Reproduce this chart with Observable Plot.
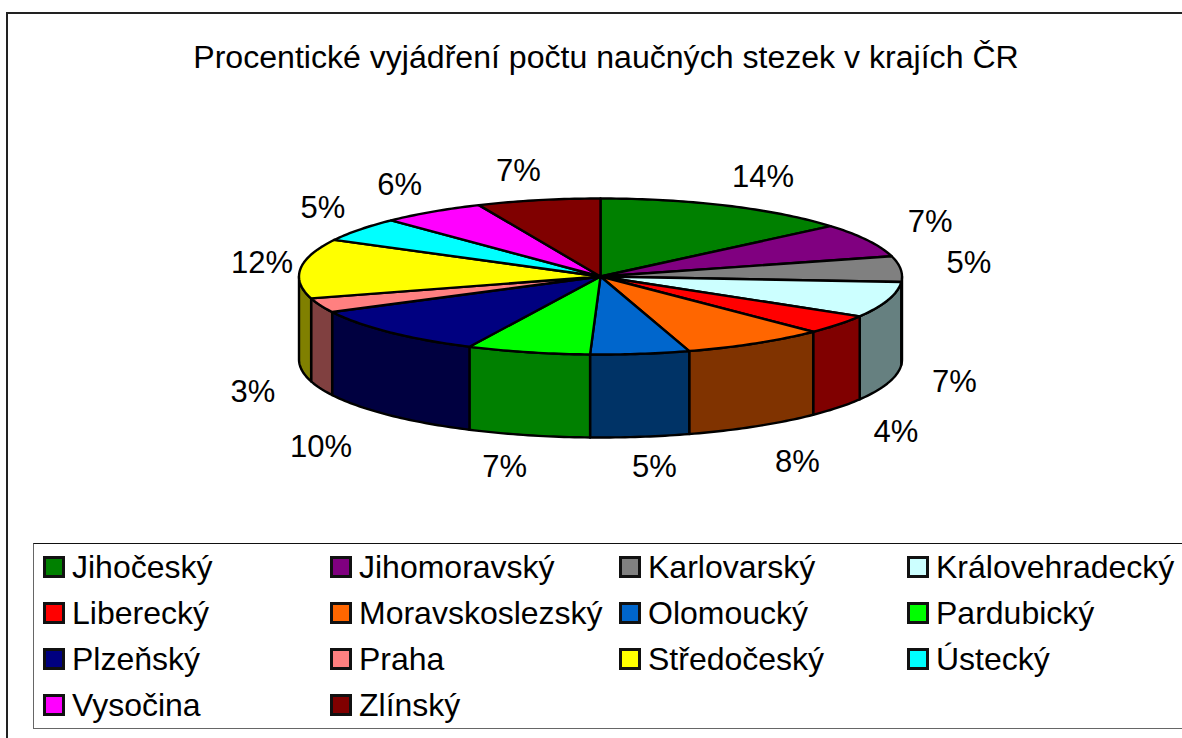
<!DOCTYPE html>
<html lang="cs">
<head>
<meta charset="utf-8">
<script src="https://cdn.jsdelivr.net/npm/d3@7"></script>
<script src="https://cdn.jsdelivr.net/npm/@observablehq/plot@0.6"></script>
<style>
  html, body { margin: 0; padding: 0; background: #fff; overflow: hidden; }
  #page { position: relative; width: 1182px; height: 738px; overflow: hidden;
          font-family: "Liberation Sans", Arial, sans-serif; color: #000; }
  #frame { position: absolute; left: 6px; top: 12px; width: 1300px; height: 800px;
           border-left: 2px solid #222; border-top: 2px solid #222; }
  #title { position: absolute; left: 6px; width: 1200px; top: 39px; text-align: center;
           font-size: 32.1px; line-height: 36px; white-space: nowrap; }
  #chart { position: absolute; left: 0; top: 0; }
  #chart svg { display: block; background: transparent; }
  #legend { position: absolute; left: 33px; top: 543px; width: 1300px; height: 183.5px;
            border-left: 1.5px solid #666; border-top: 1.5px solid #111; border-bottom: 1.5px solid #666;
            display: grid; grid-template-columns: 287px 289px 288px 300px; grid-auto-rows: 46.1px;
            font-size: 32px; }
  .item { display: flex; align-items: center; padding-left: 9px; white-space: nowrap; }
  .swatch { box-sizing: border-box; width: 22px; height: 22px; border: 3px solid #111; margin-right: 7px; flex: none; }
</style>
</head>
<body>
<div id="page">
  <div id="frame"></div>
  <div id="chart"></div>
  <div id="title"></div>
  <div id="legend"></div>
</div>
<script>
const chartTitle = "Procentické vyjádření počtu naučných stezek v krajích ČR";
const regions = ["Jihočeský", "Jihomoravský", "Karlovarský", "Královehradecký", "Liberecký", "Moravskoslezský", "Olomoucký", "Pardubický", "Plzeňský", "Praha", "Středočeský", "Ústecký", "Vysočina", "Zlínský"];
const shares = [13.8, 7.0, 5.3, 7.4, 4.0, 7.7, 5.3, 6.6, 10.3, 3.0, 12.3, 5.0, 5.6, 6.6];
const colors = ["#008000", "#800080", "#808080", "#ccffff", "#ff0000", "#ff6600", "#0066cc", "#00ff00", "#000080", "#ff8080", "#ffff00", "#00ffff", "#ff00ff", "#800000"];

// Layout of the tilted pie, in page pixels
const W = 1182, H = 738, cx = 600, cy = 276, rx = 301.5, ry = 78, depth = 83;
const rad = Math.PI / 180;

const rows = regions.map((region, i) => ({region, share: shares[i], color: colors[i], side: d3.interpolateRgb(colors[i], "#000")(0.5)}));
const arcs = d3.pie().sort(null).value(d => d.share).startAngle(0).endAngle(2 * Math.PI)(rows);

const rim = (t) => ({x: cx + rx * Math.sin(t), y: cy - ry * Math.cos(t)});
const sweep = (a0, a1) => {
  const n = Math.max(2, Math.ceil((a1 - a0) / rad));
  return d3.range(n + 1).map(k => a0 + (a1 - a0) * k / n);
};

// Top faces: centre -> rim -> centre
const tops = arcs.flatMap((a, i) => {
  const pts = [{x: cx, y: cy}, ...sweep(a.startAngle, a.endAngle).map(rim), {x: cx, y: cy}];
  return pts.map(p => ({...p, id: i, fill: a.data.color}));
});

// Outer walls: only the part of each slice that faces the viewer
const walls = arcs.flatMap((a, i) => {
  const a0 = Math.max(a.startAngle, Math.PI / 2), a1 = Math.min(a.endAngle, 1.5 * Math.PI);
  if (a1 <= a0) return [];
  const upper = sweep(a0, a1).map(rim);
  const lower = upper.map(p => ({x: p.x, y: p.y + depth})).reverse();
  const pts = [...upper, ...lower, upper[0]];
  return pts.map(p => ({...p, id: i, fill: a.data.side}));
});

// Percent labels follow the mid-angle of each slice, outside the rim
const labels = arcs.map(a => {
  const t = (a.startAngle + a.endAngle) / 2, s = Math.sin(t), c = Math.cos(t);
  let dx, dy;
  if (s > 0) dx = 370 * Math.pow(s, 0.95);
  else if (c > 0) dx = -340 * Math.pow(-s, 0.9);
  else dx = -(345 + 55 * Math.min(1, -c / 0.7)) * -s;
  if (c > 0) dy = -108 * Math.pow(c, 0.9);
  else dy = 108 * Math.pow(Math.sin(-c * Math.PI / 2), 2) + depth;
  return {x: cx + dx, y: cy + dy, text: `${Math.round(a.data.share)}%`};
});

const plot = Plot.plot({
  width: W, height: H, margin: 0,
  x: {domain: [0, W], range: [0, W], axis: null},
  y: {domain: [0, H], range: [0, H], axis: null},
  color: {type: "identity"},
  marks: [
    Plot.line(walls, {x: "x", y: "y", z: "id", fill: "fill", stroke: "#000", strokeWidth: 2.4, strokeLinejoin: "round", curve: "linear"}),
    Plot.line(tops, {x: "x", y: "y", z: "id", fill: "fill", stroke: "#000", strokeWidth: 2.4, strokeLinejoin: "round", curve: "linear"}),
    Plot.text(labels, {x: "x", y: "y", text: "text", fontSize: 31, fontFamily: "Liberation Sans, Arial, sans-serif", fill: "#000", textAnchor: "middle"})
  ]
});
document.getElementById("chart").append(plot);

document.getElementById("title").textContent = chartTitle;
const legend = document.getElementById("legend");
rows.forEach(r => {
  const item = document.createElement("div");
  item.className = "item";
  const sw = document.createElement("span");
  sw.className = "swatch";
  sw.style.background = r.color;
  const tx = document.createElement("span");
  tx.textContent = r.region;
  item.append(sw, tx);
  legend.append(item);
});
</script>
</body>
</html>
